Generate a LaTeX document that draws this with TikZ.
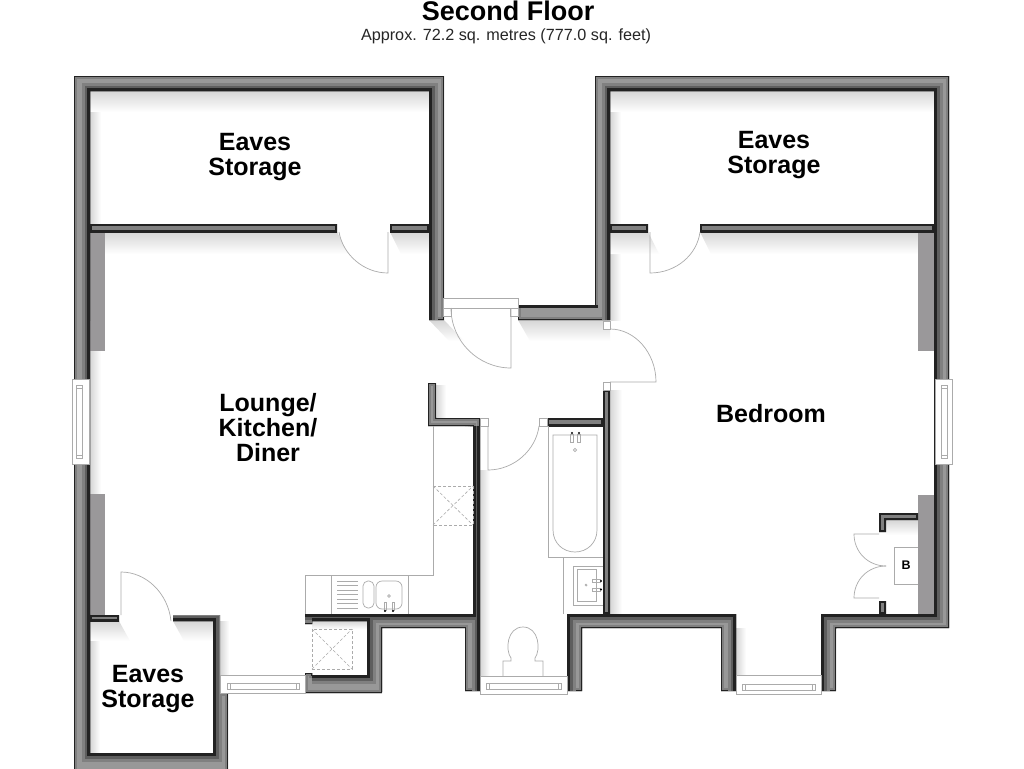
\documentclass[tikz,border=0pt]{standalone}
\usepackage{fontspec}
\setmainfont{Liberation Sans}
\definecolor{wallmid}{HTML}{989898}
\definecolor{wallb}{HTML}{808080}
\definecolor{wallc}{HTML}{5E5E5E}
\definecolor{walldark}{HTML}{222222}
\definecolor{fixline}{HTML}{ABABAB}
\definecolor{pier}{HTML}{9A989A}
\definecolor{shad}{HTML}{D6D6D6}
\newcommand{\wallthick}[2]{%
  \begin{scope}
    \clip #1 -- cycle;
    \fill[wallmid] #1 -- cycle;
    \draw[wallb, line width=6pt] #1 -- cycle;
    \draw[walldark, line width=2.6pt] #1 -- cycle;
    \draw[wallb, line width=17pt] #2;
    \draw[wallc, line width=11pt] #2;
    \draw[walldark, line width=6.4pt] #2;
  \end{scope}}
\newcommand{\wallthin}[1]{%
  \begin{scope}
    \clip #1 -- cycle;
    \fill[wallb] #1 -- cycle;
    \draw[walldark, line width=4pt] #1 -- cycle;
  \end{scope}}
\tikzset{
  fixture/.style={draw=fixline, line width=0.7pt, fill=none},
  whitefix/.style={draw=fixline, line width=0.7pt, fill=white},
  dashfix/.style={draw=fixline, line width=0.6pt, densely dashed},
  tapdot/.style={fill=black},
  roomlabel/.style={font=\bfseries\fontsize{25}{25}\selectfont, align=center, text=black, inner sep=0pt},
  shadv/.style={top color=shad, bottom color=white, draw=none},
  shadh/.style={left color=shad, right color=white, draw=none}
}
\begin{document}
\begin{tikzpicture}[x=1pt,y=-1pt]
\useasboundingbox (0,0) rectangle (1024,768);
\fill[white] (0,0) rectangle (1024,768);

% soft room shadows
\shade[shadv] (90,91) rectangle (429,112);
\shade[shadh] (90,112) rectangle (101,224);
\shade[shadv] (105,232) -- (337,232) -- (348,254) -- (105,254) -- cycle;
\shade[shadv] (390,232) -- (429,232) -- (429,254) -- (401,254) -- cycle;
\shade[shadh] (90,350) rectangle (101,494);
\shade[shadv] (429,320) -- (444,320) -- (464,341) -- (449,341) -- cycle;
\shade[shadv] (518,320) -- (610,320) -- (610,341) -- (530,341) -- cycle;
\shade[shadh] (610,232) rectangle (621,320);
\shade[shadh] (610,390) rectangle (622,614);
\shade[shadv] (610,91) rectangle (934,112);
\shade[shadh] (610,112) rectangle (621,224);
\shade[shadv] (610,232) -- (648,232) -- (659,254) -- (610,254) -- cycle;
\shade[shadv] (700,232) -- (918,232) -- (918,254) -- (711,254) -- cycle;
\shade[shadh] (436,385) rectangle (446,418);
\shade[shadh] (480,470) rectangle (490,676);
\shade[shadv] (90,621) -- (119,621) -- (130,641) -- (90,641) -- cycle;
\shade[shadv] (173,621) -- (213,621) -- (213,641) -- (184,641) -- cycle;
\shade[shadh] (90,641) rectangle (100,753);
\shade[shadh] (220,621) rectangle (229,675);
\shade[shadv] (312,621) rectangle (367,629);
\shade[shadh] (736,628) rectangle (746,676);
\shade[shadv] (886,520) rectangle (918,535);

% flat grey piers
\fill[pier] (90,232) rectangle (105,351);
\fill[pier] (90,494) rectangle (105,615);
\fill[pier] (918,232) rectangle (934,351);
\fill[pier] (918,495) rectangle (934,614);

% main walls
\wallthick{(74,780) -- (74,76) -- (444,76) -- (444,320) -- (429,320) -- (429,91) -- (90,91) -- (90,753) -- (213,753) -- (213,621) -- (173,621) -- (173,615) -- (220,615) -- (220,693) -- (228,693) -- (228,780)}
  {(429,320) -- (429,91) -- (90,91) -- (90,753) -- (213,753) -- (213,621) -- (173,621)}
\wallthick{(518,305) -- (595,305) -- (595,76) -- (949,76) -- (949,628) -- (836,628) -- (836,691) -- (821,691) -- (821,614) -- (934,614) -- (934,91) -- (610,91) -- (610,320) -- (518,320)}
  {(610,320) -- (610,91) -- (934,91) -- (934,614) -- (821,614) -- (821,691)}
\wallthick{(428,383) -- (436,383) -- (436,418) -- (480,418) -- (480,691) -- (465,691) -- (465,628) -- (382,628) -- (382,693) -- (305,693) -- (305,673) -- (312,673) -- (312,675) -- (367,675) -- (367,621) -- (312,621) -- (312,624) -- (305,624) -- (305,614) -- (473,614) -- (473,426) -- (428,426)}
  {(305,614) -- (473,614) -- (473,426) (480,426) -- (480,691) (312,675) -- (367,675) -- (367,621) -- (312,621)}
\wallthick{(567,691) -- (567,614) -- (736,614) -- (736,691) -- (721,691) -- (721,628) -- (582,628) -- (582,691)}
  {(567,691) -- (567,614) -- (736,614) -- (736,691)}
\begin{scope}
  \clip (518,305) rectangle (610,320);
  \draw[walldark, line width=5pt] (518,305) -- (595,305) -- (595,290);
\end{scope}

% thin partitions
\wallthin{(90,224) -- (337,224) -- (337,232) -- (90,232)}
\wallthin{(390,224) -- (429,224) -- (429,232) -- (390,232)}
\wallthin{(610,224) -- (648,224) -- (648,232) -- (610,232)}
\wallthin{(700,224) -- (934,224) -- (934,232) -- (700,232)}
\wallthin{(90,615) -- (119,615) -- (119,621) -- (90,621)}
\wallthin{(603,390) -- (610,390) -- (610,614) -- (603,614)}
\wallthin{(547,418) -- (603,418) -- (603,426) -- (547,426)}
\wallthin{(879,532) -- (879,513) -- (918,513) -- (918,520) -- (886,520) -- (886,532)}
\wallthin{(879,614) -- (879,601) -- (886,601) -- (886,614)}

% door frames and doors
\draw[whitefix] (443,298) rectangle (518,308);
\draw[whitefix] (443,308) rectangle (451,316);
\draw[whitefix] (510,308) rectangle (518,316);
\draw[fixture] (451,308) .. controls (451,341) and (478,368) .. (511,368) -- (511,308);
\draw[whitefix] (603,321) rectangle (610,329);
\draw[whitefix] (603,382) rectangle (610,390);
\draw[fixture] (610,329) .. controls (635,329) and (656,353) .. (656,382) -- (610,382);
\draw[whitefix] (480,418) rectangle (488,426);
\draw[whitefix] (539,418) rectangle (547,426);
\draw[fixture] (539,426) .. controls (536,450) and (514,470) .. (488,470) -- (488,426);
\draw[fixture] (339,232) .. controls (343,255) and (364,273) .. (388,273) -- (388,232);
\draw[fixture] (700,232) .. controls (697,255) and (676,273) .. (650,273) -- (650,232);
\draw[fixture] (171,621) .. controls (168,593) and (146,572) .. (121,572) -- (121,615);
\draw[fixture] (886,566) .. controls (868,566) and (854,552) .. (854,534) -- (879,534);
\draw[fixture] (886,566) .. controls (868,566) and (854,580) .. (854,598) -- (879,598);

% cupboard
\draw[whitefix] (918,547) -- (894,547) -- (894,584) -- (918,584);
\node[inner sep=0pt, font=\bfseries\fontsize{12.5}{13}\selectfont] (boiler) at (906,565) {B};

% kitchen units
\draw[fixture] (433,426) -- (433,575) -- (305,575) -- (305,614);
\draw[fixture] (331,575) -- (331,614);
\draw[fixture] (408,575) -- (408,614);
\foreach \yy in {581,585.5,590,594.5,599,603.5,608}
  \draw[fixture] (337,\yy) -- (358,\yy);
\draw[fixture, rounded corners=5pt] (363,581) rectangle (374,608);
\draw[fixture, rounded corners=6pt] (376,581) rectangle (402,609);
\draw[fixture] (389,596) circle (1.3);
\draw[fixture] (384,602) rectangle (386,610);
\draw[fixture] (392,602) rectangle (394,610);
\fill[tapdot] (385,611) circle (1.2);
\fill[tapdot] (393,611) circle (1.2);
\draw[dashfix] (433,486) rectangle (473,525);
\draw[dashfix] (433,486) -- (473,525) (433,525) -- (473,486);
\draw[dashfix] (312,629) rectangle (352,669);
\draw[dashfix] (312,629) -- (352,669) (312,669) -- (352,629);

% bathroom
\draw[fixture] (548,426) -- (548,557) -- (603,557);
\draw[fixture] (553,435) -- (597,435) -- (597,530) .. controls (597,543) and (587,552) .. (575,552) .. controls (563,552) and (553,543) .. (553,530) -- cycle;
\draw[fixture] (570.5,434) rectangle (573.5,442);
\draw[fixture] (577.5,434) rectangle (580.5,442);
\fill[tapdot] (572,433) circle (1.2);
\fill[tapdot] (579,433) circle (1.2);
\draw[fixture] (575,450) circle (1.6);
\draw[fixture] (563,557) -- (563,614);
\draw[fixture] (603,566) -- (573,566) -- (573,605) -- (603,605);
\draw[fixture] (577,569) rectangle (596,601);
\draw[fixture] (592,579.5) rectangle (600,582.5);
\draw[fixture] (592,588) rectangle (600,591);
\fill[tapdot] (601,581) circle (1.2);
\fill[tapdot] (601,589.5) circle (1.2);
\draw[fixture] (586,585) circle (1);
\draw[fixture] (503,676) -- (503,661) -- (511,661) -- (511,658) .. controls (505,650) and (507,627) .. (523,627) .. controls (539,627) and (541,650) .. (535,658) -- (535,661) -- (543,661) -- (543,676);

% windows
\draw[whitefix] (72,379) rectangle (89,464);
\draw[fixture] (76,385) rectangle (82,458) (76,388) -- (82,388) (76,455) -- (82,455);
\draw[whitefix] (935,379) rectangle (952,464);
\draw[fixture] (941,385) rectangle (947,458) (941,388) -- (947,388) (941,455) -- (947,455);
\draw[whitefix] (220,675) rectangle (305,693);
\draw[fixture] (227,683) rectangle (299,689) (230,683) -- (230,689) (296,683) -- (296,689);
\draw[whitefix] (480,676) rectangle (567,694);
\draw[fixture] (486,683) rectangle (561,689) (489,683) -- (489,689) (558,683) -- (558,689);
\draw[whitefix] (736,675) rectangle (821,694);
\draw[fixture] (742,684) rectangle (815,690) (745,684) -- (745,690) (812,684) -- (812,690);

% texts
\node[inner sep=0pt, font=\bfseries\fontsize{27}{27}\selectfont] (title) at (508,11) {Second Floor};
\node[inner sep=0pt, font=\fontsize{16.2}{16}\selectfont, text=black!85] (subtitle) at (506,36) {Approx. 72.2 sq. metres (777.0 sq. feet)};
\node[roomlabel] (eavesA) at (255,157) {Eaves\\Storage};
\node[roomlabel] (eavesB) at (774,155) {Eaves\\Storage};
\node[roomlabel] (eavesC) at (148,689) {Eaves\\Storage};
\node[roomlabel] (lounge) at (268,428) {Lounge/\\Kitchen/\\Diner};
\node[roomlabel] (bedroom) at (771,414) {Bedroom};
\end{tikzpicture}
\end{document}
